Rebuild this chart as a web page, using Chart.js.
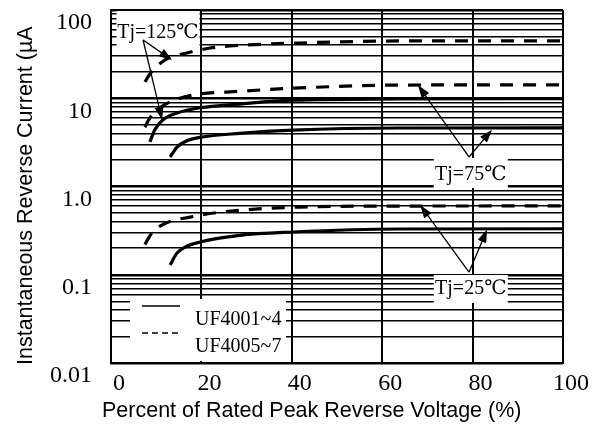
<!DOCTYPE html>
<html>
<head>
<meta charset="utf-8">
<script src="https://cdn.jsdelivr.net/npm/chart.js@4.4.1/dist/chart.umd.min.js"></script>
<style>
  html, body { margin: 0; padding: 0; background: #fff; }
  #wrap { width: 598px; height: 424px; }
</style>
</head>
<body>
<div id="wrap"><canvas id="chart" width="598" height="424"></canvas></div>
<script>
// x: percent of rated peak reverse voltage, y: reverse current in µA
const xTicks = [0, 20, 40, 60, 80, 100];
const yDecades = [0.01, 0.1, 1, 10, 100];
const yDecadeLabels = ['0.01', '0.1', '1.0', '10', '100'];
const yMinorSteps = [2, 3, 4, 5, 6, 7, 8, 9];

// Tj = 125
const x125Solid = [8.6, 9.7, 11.5, 14.6, 19.7, 28.5, 40.3, 63.9, 100];
const y125Solid = [3.2, 4.4, 5.7, 6.8, 7.8, 8.6, 9.5, 9.8, 9.9];
const x125Dash = [7.5, 8.6, 11.9, 16.8, 21.9, 26.3, 41.8, 63.9, 100];
const y125Dash = [15.3, 18.8, 27.1, 32.6, 37.1, 39.1, 42.3, 44.6, 44.8];
// Tj = 75
const x75Solid = [13.1, 14.6, 16.8, 19.7, 28.5, 40.3, 63.9, 100];
const y75Solid = [2.16, 2.8, 3.3, 3.6, 4.0, 4.35, 4.6, 4.62];
const x75Dash = [7.5, 8.6, 10.8, 14.2, 19.7, 26.3, 41.8, 63.9, 100];
const y75Dash = [4.7, 6.0, 7.8, 9.6, 11.2, 11.8, 13.1, 14.1, 14.2];
// Tj = 25
const x25Solid = [13.1, 14.6, 16.4, 19.7, 28.5, 40.3, 63.9, 100];
const y25Solid = [0.129, 0.176, 0.206, 0.235, 0.28, 0.305, 0.33, 0.332];
const x25Dash = [7.5, 9.1, 11.9, 17.5, 24.1, 41.8, 63.9, 100];
const y25Dash = [0.22, 0.30, 0.38, 0.45, 0.51, 0.585, 0.60, 0.602];

const legendLabels = ['UF4001~4', 'UF4005~7'];

// temperature callouts (anchor points in data units)
const tjLabels = ['Tj=125℃', 'Tj=75℃', 'Tj=25℃'];
const tjLabelX = [10.4, 79.6, 79.6];
const tjLabelY = [54.8, 1.35, 0.069];
const arrowFromX = [7.1, 7.1, 79.2, 79.2, 79.2, 79.2];
const arrowFromY = [45.7, 45.7, 2.16, 2.16, 0.107, 0.107];
const arrowToX = [13.5, 11.3, 67.9, 84.3, 68.4, 83.2];
const arrowToY = [27.1, 5.7, 14.1, 4.4, 0.617, 0.325];

const yGridValues = [];
yDecades.forEach((d, i) => {
  yGridValues.push(d);
  if (i < yDecades.length - 1) yMinorSteps.forEach(m => yGridValues.push(+(d * m).toPrecision(6)));
});

const pts = (xs, ys) => xs.map((x, i) => ({ x: x, y: ys[i] }));
const serif = '"Liberation Serif", "Times New Roman", "DejaVu Serif", serif';
const sans = '"Liberation Sans", Arial, sans-serif';

function curve(label, xs, ys, dashed) {
  return {
    label: label,
    data: pts(xs, ys),
    borderColor: '#000',
    borderWidth: 3.2,
    borderDash: dashed ? [13, 10] : [],
    pointRadius: 0,
    fill: false,
    cubicInterpolationMode: 'monotone'
  };
}

function drawArrow(ctx, x0, y0, x1, y1) {
  const a = Math.atan2(y1 - y0, x1 - x0);
  const len = 13, half = 4.5;
  ctx.beginPath();
  ctx.moveTo(x0, y0);
  ctx.lineTo(x1 - Math.cos(a) * len * 0.8, y1 - Math.sin(a) * len * 0.8);
  ctx.stroke();
  ctx.beginPath();
  ctx.moveTo(x1, y1);
  ctx.lineTo(x1 - len * Math.cos(a) + half * Math.sin(a), y1 - len * Math.sin(a) - half * Math.cos(a));
  ctx.lineTo(x1 - len * Math.cos(a) - half * Math.sin(a), y1 - len * Math.sin(a) + half * Math.cos(a));
  ctx.closePath();
  ctx.fill();
}

const boxStyle = [
  { w: 83, above: 22, below: 13 },
  { w: 74, above: 17, below: 13 },
  { w: 74, above: 14, below: 14 }
];

const extras = {
  id: 'extras',
  afterDatasetsDraw(chart) {
    const { ctx, chartArea } = chart;
    const xs = chart.scales.x, ys = chart.scales.y;
    ctx.save();

    // callout boxes
    ctx.font = '20px ' + serif;
    ctx.textAlign = 'center';
    ctx.textBaseline = 'middle';
    tjLabels.forEach((t, i) => {
      const cx = xs.getPixelForValue(tjLabelX[i]);
      const cy = ys.getPixelForValue(tjLabelY[i]);
      const b = boxStyle[i];
      ctx.fillStyle = '#fff';
      ctx.fillRect(cx - b.w / 2, cy - b.above, b.w, b.above + b.below);
      ctx.fillStyle = '#000';
      ctx.fillText(t, cx, cy);
    });

    // arrows
    ctx.strokeStyle = '#000';
    ctx.fillStyle = '#000';
    ctx.lineWidth = 1.3;
    arrowFromX.forEach((v, i) => {
      drawArrow(ctx,
        xs.getPixelForValue(v), ys.getPixelForValue(arrowFromY[i]),
        xs.getPixelForValue(arrowToX[i]), ys.getPixelForValue(arrowToY[i]));
    });

    // legend box
    const lx = chartArea.left + 19, ly = chartArea.bottom - 64;
    ctx.fillStyle = '#fff';
    ctx.fillRect(lx, ly, 156, 62);
    ctx.lineWidth = 1.3;
    ctx.beginPath();
    ctx.moveTo(lx + 12, ly + 7); ctx.lineTo(lx + 50, ly + 7);
    ctx.stroke();
    ctx.setLineDash([6, 4]);
    ctx.beginPath();
    ctx.moveTo(lx + 12, ly + 34); ctx.lineTo(lx + 50, ly + 34);
    ctx.stroke();
    ctx.setLineDash([]);
    ctx.fillStyle = '#000';
    ctx.textAlign = 'left';
    ctx.fillText(legendLabels[0], lx + 65, ly + 21);
    ctx.fillText(legendLabels[1], lx + 65, ly + 48);

    ctx.restore();
  },
  afterDraw(chart) {
    const { ctx } = chart;
    ctx.save();
    ctx.fillStyle = '#000';
    ctx.font = '21.5px ' + sans;
    ctx.textAlign = 'left';
    ctx.textBaseline = 'alphabetic';
    ctx.fillText('Percent of Rated Peak Reverse Voltage (%)', 102, 417);
    ctx.translate(32, 365);
    ctx.rotate(-Math.PI / 2);
    ctx.fillText('Instantaneous Reverse Current (µA', 0, 0);
    ctx.restore();
  }
};

new Chart(document.getElementById('chart'), {
  type: 'line',
  data: {
    datasets: [
      curve('UF4001~4 Tj=125℃', x125Solid, y125Solid, false),
      curve('UF4005~7 Tj=125℃', x125Dash, y125Dash, true),
      curve('UF4001~4 Tj=75℃', x75Solid, y75Solid, false),
      curve('UF4005~7 Tj=75℃', x75Dash, y75Dash, true),
      curve('UF4001~4 Tj=25℃', x25Solid, y25Solid, false),
      curve('UF4005~7 Tj=25℃', x25Dash, y25Dash, true)
    ]
  },
  options: {
    responsive: false,
    animation: false,
    layout: { padding: { top: 10, right: 35, left: 0, bottom: 0 } },
    plugins: { legend: { display: false }, tooltip: { enabled: false } },
    scales: {
      x: {
        type: 'linear', min: 0, max: 100,
        afterBuildTicks: s => { s.ticks = xTicks.map(v => ({ value: v })); },
        afterFit: s => { s.height = 61; s.paddingLeft = 0; s.paddingRight = 0; },
        grid: { color: '#000', lineWidth: 2, drawTicks: false },
        border: { color: '#000', width: 2 },
        ticks: { color: '#000', padding: 6, labelOffset: 8, autoSkip: false, maxRotation: 0,
                 font: { family: serif, size: 24 } }
      },
      y: {
        type: 'logarithmic', min: 0.01, max: 100,
        afterBuildTicks: s => { s.ticks = yGridValues.map(v => ({ value: v, major: yDecades.includes(v) })); },
        afterFit: s => { s.width = 111; s.paddingTop = 0; s.paddingBottom = 0; },
        grid: { color: '#000', drawTicks: false,
                lineWidth: c => (c.tick && yDecades.includes(c.tick.value)) ? 2.4 : 1.4 },
        border: { color: '#000', width: 2 },
        ticks: { color: '#000', padding: 19, labelOffset: 13, autoSkip: false,
                 font: { family: serif, size: 24 },
                 callback: v => { const k = yDecades.indexOf(v); return k >= 0 ? yDecadeLabels[k] : ''; } }
      }
    }
  },
  plugins: [extras]
});
</script>
</body>
</html>
